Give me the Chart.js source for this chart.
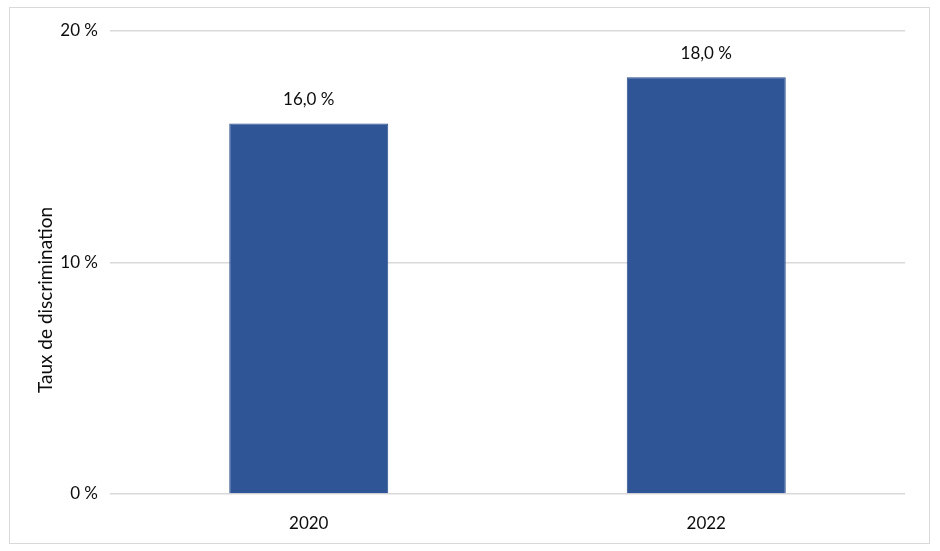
<!DOCTYPE html>
<html lang="fr">
<head>
  <meta charset="UTF-8">
  <title>Taux de discrimination</title>
  <script src="https://cdn.jsdelivr.net/npm/chart.js"></script>
  <style>
    body {
      margin: 0;
      background: #fff;
    }
    #frame {
      position: absolute;
      left: 9px;
      top: 7px;
      width: 919px;
      height: 535px;
      border: 1px solid #d9d9d9;
    }
    #chart {
      position: absolute;
      left: 0;
      top: 0;
    }
  </style>
</head>
<body>
  <div id="frame"></div>
  <canvas id="chart" width="940" height="551"></canvas>

  <script>
    const years = ['2020', '2022'];
    const rates = [16.0, 18.0];
    const yTicks = [0, 10, 20];
    const axisTitle = 'Taux de discrimination';

    const FONT = 'Lato, "Open Sans", sans-serif';
    const INK = '#0d0d0d';

    // value labels above each bar
    const barLabels = {
      id: 'barLabels',
      afterDatasetsDraw(chart) {
        const ctx = chart.ctx;
        const meta = chart.getDatasetMeta(0);
        ctx.save();
        ctx.font = '17px ' + FONT;
        ctx.fillStyle = INK;
        ctx.textAlign = 'center';
        ctx.textBaseline = 'middle';
        meta.data.forEach((bar, i) => {
          const txt = rates[i].toFixed(1).replace('.', ',') + ' %';
          ctx.fillText(txt, bar.x, bar.y - 24);
        });
        ctx.restore();
      }
    };

    // y axis title, placed like the original (a bit below the plot centre)
    const yTitle = {
      id: 'yTitle',
      afterDraw(chart) {
        const ctx = chart.ctx;
        ctx.save();
        ctx.translate(46, 300);
        ctx.rotate(-Math.PI / 2);
        ctx.font = '19px ' + FONT;
        ctx.fillStyle = INK;
        ctx.textAlign = 'center';
        ctx.textBaseline = 'middle';
        ctx.fillText(axisTitle, 0, 0);
        ctx.restore();
      }
    };

    new Chart(document.getElementById('chart').getContext('2d'), {
      type: 'bar',
      data: {
        labels: years,
        datasets: [{
          data: rates,
          backgroundColor: '#2F5597',
          borderColor: '#2A4D8C',
          borderWidth: 1,
          categoryPercentage: 1,
          barPercentage: 0.4
        }]
      },
      options: {
        responsive: false,
        animation: false,
        layout: { padding: { top: 31, right: 35, left: 0, bottom: 0 } },
        plugins: {
          legend: { display: false },
          tooltip: { enabled: false }
        },
        scales: {
          x: {
            grid: { display: false },
            border: { display: false },
            ticks: { font: { family: FONT, size: 17 }, color: INK, padding: 11 },
            afterFit(scale) { scale.height = 57; }
          },
          y: {
            min: 0,
            max: 20,
            afterBuildTicks(scale) { scale.ticks = yTicks.map(v => ({ value: v })); },
            ticks: {
              font: { family: FONT, size: 17 },
              color: INK,
              padding: 12,
              callback: v => v + ' %'
            },
            grid: { color: '#d9d9d9', lineWidth: 1.5, drawTicks: false },
            border: { display: false },
            afterFit(scale) { scale.width = 110; }
          }
        }
      },
      plugins: [barLabels, yTitle]
    });
  </script>
</body>
</html>
